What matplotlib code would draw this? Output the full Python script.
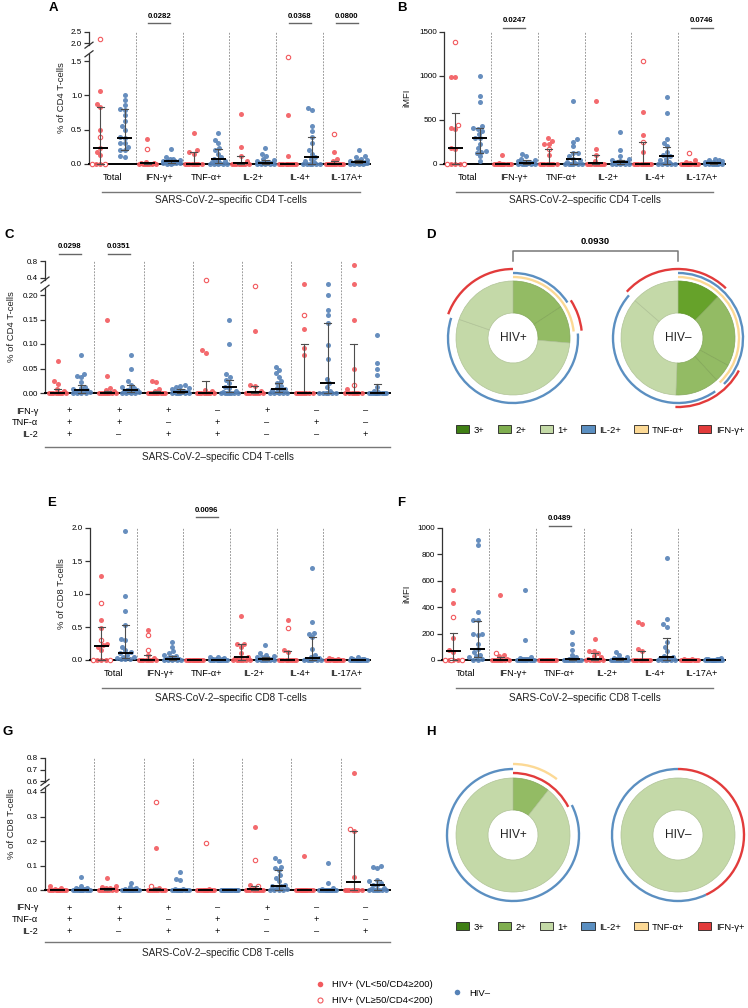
import numpy as np
import matplotlib
matplotlib.use('Agg')
import matplotlib.pyplot as plt
from matplotlib.patches import Arc, Patch
from matplotlib.lines import Line2D
from matplotlib.colors import to_rgb

plt.rcParams['font.family'] = ['Liberation Sans', 'DejaVu Sans']
plt.rcParams['font.size'] = 6.5

W, H = 748, 1008
RED = '#f25a5e'
BLUE = '#5682b7'
PIE_COL = {'3+': '#66a22a', '2+': '#93bb64', '1+': '#c4d9a8'}
LEG_COL = {'3+': '#3f7f14', '2+': '#7fae4f', '1+': '#c3d9a6'}
ARC_COL = {'IL2': '#5b8fc1', 'TNF': '#fcd995', 'IFN': '#e23b3b'}

# ---------------- data ----------------
cats = ['Total', 'IFN-γ+', 'TNF-α+', 'IL-2+', 'IL-4+', 'IL-17A+']
combo_ifn = ['+', '+', '+', '–', '+', '–', '–']
combo_tnf = ['+', '+', '–', '+', '–', '+', '–']
combo_il2 = ['+', '–', '+', '+', '–', '–', '+']

# A: % of CD4 T-cells
a_red = [[1.06, 0.87, 0.83, 0.5, 0.23, 0.18, 0.13, 0, 0],
         [0.36, 0.03, 0.02, 0.01, 0, 0, 0, 0, 0, 0, 0],
         [0.45, 0.2, 0.17, 0.15, 0, 0, 0, 0, 0, 0, 0, 0],
         [0.73, 0.25, 0.12, 0.05, 0, 0, 0, 0, 0, 0, 0, 0],
         [0.72, 0.12, 0, 0, 0, 0, 0, 0, 0, 0, 0, 0],
         [0.17, 0.08, 0.05, 0, 0, 0, 0, 0, 0, 0, 0, 0]]
a_red_open = [[2.2, 0.4, 0, 0], [0.22], [], [], [1.6], [0.44]]
a_blue = [[1.01, 0.93, 0.86, 0.8, 0.79, 0.72, 0.63, 0.55, 0.5, 0.4, 0.38, 0.3, 0.3, 0.25, 0.2, 0.2, 0.12, 0.1],
          [0.22, 0.1, 0.08, 0.07, 0.06, 0.05, 0.04, 0.04, 0.03, 0.03, 0.03, 0.02, 0.02, 0.01, 0.01, 0.01, 0, 0],
          [0.45, 0.35, 0.3, 0.23, 0.2, 0.15, 0.1, 0.08, 0.06, 0.05, 0.03, 0.02, 0.01, 0, 0, 0, 0, 0],
          [0.24, 0.15, 0.12, 0.08, 0.06, 0.05, 0.03, 0.03, 0.02, 0.02, 0.01, 0.01, 0.01, 0, 0, 0, 0, 0],
          [0.81, 0.78, 0.55, 0.48, 0.4, 0.3, 0.2, 0.15, 0.1, 0.08, 0.05, 0.03, 0, 0, 0, 0, 0, 0],
          [0.2, 0.12, 0.1, 0.08, 0.06, 0.05, 0.04, 0.03, 0.03, 0.02, 0.02, 0.02, 0.01, 0.01, 0, 0, 0, 0]]
a_red_med = [0.23, 0.01, 0.0, 0.01, 0.0, 0.0]
a_red_iqr = [(0, 0.83), (0, 0.02), (0, 0.18), (0, 0.12), (0, 0), (0, 0.05)]
a_blue_med = [0.38, 0.04, 0.07, 0.02, 0.1, 0.03]
a_blue_iqr = [(0.2, 0.8), (0.02, 0.06), (0.01, 0.22), (0, 0.06), (0, 0.4), (0.01, 0.06)]
a_sig = [(1, '0.0282'), (4, '0.0368'), (5, '0.0800')]

# B: iMFI CD4
b_red = [[990, 985, 410, 400, 180, 170, 0, 0, 0],
         [100, 10, 5, 0, 0, 0, 0, 0, 0, 0, 0, 0, 0],
         [290, 260, 230, 225, 100, 0, 0, 0, 0, 0, 0, 0, 0],
         [720, 170, 100, 30, 0, 0, 0, 0, 0, 0, 0, 0, 0],
         [590, 330, 140, 0, 0, 0, 0, 0, 0, 0, 0, 0],
         [40, 20, 10, 0, 0, 0, 0, 0, 0, 0, 0, 0, 0]]
b_red_open = [[1390, 440, 0, 0], [], [170], [], [1170, 250], [130]]
b_blue = [[1000, 770, 700, 430, 410, 400, 380, 340, 300, 290, 230, 180, 150, 140, 130, 90, 30],
          [110, 90, 60, 40, 30, 25, 20, 15, 10, 10, 10, 5, 5, 0, 0, 0, 0],
          [720, 280, 250, 200, 130, 120, 90, 60, 40, 20, 10, 0, 0, 0, 0, 0, 0],
          [360, 160, 90, 60, 40, 30, 25, 20, 20, 15, 10, 10, 5, 0, 0, 0, 0],
          [760, 580, 280, 240, 200, 140, 100, 90, 60, 40, 20, 10, 0, 0, 0, 0, 0],
          [60, 50, 40, 30, 25, 20, 15, 10, 10, 10, 5, 5, 0, 0, 0, 0, 0]]
b_red_med = [180, 0, 0, 10, 0, 0]
b_red_iqr = [(0, 580), (0, 0), (0, 170), (0, 100), (0, 250), (0, 0)]
b_blue_med = [300, 10, 60, 20, 90, 10]
b_blue_iqr = [(130, 410), (0, 40), (0, 140), (0, 50), (0, 190), (0, 20)]
b_sig = [(1, '0.0247'), (5, '0.0746')]

# C: CD4 cytokine combinations
c_red = [[0.066, 0.024, 0.018, 0.008, 0.005, 0, 0, 0, 0, 0, 0, 0, 0],
         [0.15, 0.034, 0.01, 0.006, 0.004, 0, 0, 0, 0, 0, 0, 0, 0],
         [0.024, 0.023, 0.008, 0.004, 0, 0, 0, 0, 0, 0, 0, 0, 0],
         [0.088, 0.082, 0.007, 0.004, 0, 0, 0, 0, 0, 0, 0, 0],
         [0.127, 0.017, 0.014, 0.005, 0, 0, 0, 0, 0, 0, 0, 0],
         [0.33, 0.13, 0.092, 0.077, 0, 0, 0, 0, 0, 0, 0, 0],
         [0.7, 0.33, 0.15, 0.049, 0.008, 0, 0, 0, 0, 0, 0, 0]]
c_red_open = [[], [], [], [0.38], [0.31], [0.16], [0.017]]
c_blue = [[0.078, 0.039, 0.035, 0.032, 0.022, 0.013, 0.01, 0.008, 0.006, 0.005, 0.004, 0.003, 0.002, 0.001, 0, 0, 0],
          [0.078, 0.049, 0.024, 0.017, 0.013, 0.01, 0.008, 0.007, 0.006, 0.005, 0.004, 0.003, 0.002, 0, 0, 0, 0],
          [0.017, 0.015, 0.012, 0.01, 0.008, 0.006, 0.005, 0.004, 0.003, 0.003, 0.002, 0.001, 0, 0, 0, 0, 0],
          [0.148, 0.1, 0.039, 0.033, 0.027, 0.02, 0.013, 0.01, 0.005, 0.002, 0, 0, 0, 0, 0, 0, 0],
          [0.054, 0.047, 0.04, 0.033, 0.025, 0.02, 0.015, 0.01, 0.008, 0.007, 0.005, 0.002, 0, 0, 0, 0, 0],
          [0.33, 0.2, 0.17, 0.16, 0.143, 0.098, 0.069, 0.028, 0.02, 0.012, 0.005, 0, 0, 0, 0, 0, 0],
          [0.118, 0.061, 0.05, 0.037, 0.012, 0.005, 0.002, 0, 0, 0, 0, 0, 0, 0, 0, 0, 0]]
c_red_med = [0, 0, 0, 0, 0.003, 0, 0]
c_red_iqr = [(0, 0.008), (0, 0.005), (0, 0.004), (0, 0.025), (0, 0.015), (0, 0.1), (0, 0.1)]
c_blue_med = [0.007, 0.007, 0.003, 0.012, 0.008, 0.02, 0.0]
c_blue_iqr = [(0.001, 0.016), (0.002, 0.016), (0, 0.008), (0.002, 0.027), (0.002, 0.02), (0, 0.143), (0, 0.018)]
c_sig = [(0, '0.0298'), (1, '0.0351')]

# E: % of CD8 T-cells
e_red = [[1.28, 0.6, 0.48, 0.25, 0.22, 0.2, 0.15, 0, 0, 0],
         [0.46, 0.08, 0.03, 0, 0, 0, 0, 0, 0, 0, 0],
         [0, 0, 0, 0, 0, 0, 0, 0, 0, 0, 0, 0, 0, 0],
         [0.67, 0.25, 0.24, 0.2, 0.1, 0.05, 0.03, 0, 0, 0, 0, 0, 0, 0],
         [0.61, 0.15, 0.12, 0, 0, 0, 0, 0, 0, 0, 0, 0, 0],
         [0.03, 0.02, 0.01, 0, 0, 0, 0, 0, 0, 0, 0, 0, 0, 0]]
e_red_open = [[0.87, 0.3, 0, 0], [0.38, 0.15], [], [], [0.49], []]
e_blue = [[1.96, 0.97, 0.75, 0.53, 0.32, 0.3, 0.2, 0.15, 0.12, 0.1, 0.08, 0.05, 0.04, 0.03, 0.02, 0.02, 0.01],
          [0.27, 0.2, 0.13, 0.1, 0.08, 0.06, 0.05, 0.03, 0.02, 0.02, 0.01, 0.01, 0, 0, 0, 0, 0],
          [0.05, 0.04, 0.03, 0.02, 0.01, 0.01, 0.005, 0, 0, 0, 0, 0, 0, 0, 0, 0, 0],
          [0.23, 0.1, 0.08, 0.06, 0.05, 0.04, 0.03, 0.02, 0.02, 0.01, 0, 0, 0, 0, 0, 0, 0],
          [1.4, 0.57, 0.41, 0.4, 0.35, 0.16, 0.08, 0.04, 0.03, 0.02, 0.01, 0, 0, 0, 0, 0, 0],
          [0.05, 0.03, 0.02, 0.01, 0.01, 0.005, 0, 0, 0, 0, 0, 0, 0, 0, 0, 0, 0]]
e_red_med = [0.21, 0, 0, 0.04, 0, 0]
e_red_iqr = [(0, 0.5), (0, 0.08), (0, 0), (0, 0.24), (0, 0.13), (0, 0)]
e_blue_med = [0.11, 0.01, 0, 0.02, 0.03, 0]
e_blue_iqr = [(0.03, 0.53), (0, 0.06), (0, 0), (0, 0.05), (0, 0.35), (0, 0)]
e_sig = [(2, '0.0096')]

# F: iMFI CD8
f_red = [[530, 435, 165, 75, 60, 0, 0, 0],
         [490, 40, 30, 10, 0, 0, 0, 0, 0, 0, 0, 0],
         [0, 0, 0, 0, 0, 0, 0, 0, 0, 0, 0, 0, 0, 0],
         [160, 70, 65, 50, 30, 20, 10, 0, 0, 0, 0, 0, 0, 0],
         [290, 275, 80, 65, 0, 0, 0, 0, 0, 0, 0, 0, 0, 0],
         [10, 5, 0, 0, 0, 0, 0, 0, 0, 0, 0, 0, 0, 0]]
f_red_open = [[325, 0, 0, 0], [55], [], [], [], []]
f_blue = [[910, 870, 365, 300, 300, 200, 200, 190, 120, 80, 60, 40, 30, 20, 10, 0, 0],
          [530, 155, 20, 15, 10, 10, 5, 5, 0, 0, 0, 0, 0, 0, 0, 0, 0],
          [210, 120, 75, 40, 20, 10, 5, 5, 0, 0, 0, 0, 0, 0, 0, 0, 0],
          [60, 35, 25, 15, 10, 10, 5, 5, 0, 0, 0, 0, 0, 0, 0, 0, 0],
          [775, 310, 270, 250, 140, 100, 70, 30, 20, 15, 10, 0, 0, 0, 0, 0, 0],
          [15, 10, 10, 5, 5, 0, 0, 0, 0, 0, 0, 0, 0, 0, 0, 0, 0]]
f_red_med = [65, 0, 0, 10, 0, 0]
f_red_iqr = [(0, 205), (0, 20), (0, 0), (0, 50), (0, 65), (0, 0)]
f_blue_med = [80, 0, 5, 5, 20, 0]
f_blue_iqr = [(20, 295), (0, 10), (0, 15), (0, 15), (0, 165), (0, 0)]
f_sig = [(2, '0.0489')]

# G: CD8 cytokine combinations
g_red = [[0.016, 0.008, 0.005, 0, 0, 0, 0, 0, 0, 0, 0, 0, 0, 0],
         [0.05, 0.015, 0.012, 0.01, 0.008, 0.005, 0, 0, 0, 0, 0, 0, 0, 0],
         [0.17, 0.01, 0.005, 0, 0, 0, 0, 0, 0, 0, 0, 0],
         [0.005, 0, 0, 0, 0, 0, 0, 0, 0, 0, 0, 0, 0],
         [0.256, 0.02, 0.01, 0, 0, 0, 0, 0, 0, 0, 0, 0],
         [0.14, 0, 0, 0, 0, 0, 0, 0, 0, 0, 0, 0, 0, 0],
         [0.67, 0.24, 0.052, 0, 0, 0, 0, 0, 0, 0, 0]]
g_red_open = [[], [], [0.36, 0.015], [0.19], [0.124, 0.016], [], [0.25]]
g_blue = [[0.055, 0.015, 0.01, 0.008, 0.005, 0.003, 0, 0, 0, 0, 0, 0, 0, 0, 0, 0, 0],
          [0.03, 0.012, 0.01, 0.005, 0.003, 0, 0, 0, 0, 0, 0, 0, 0, 0, 0, 0, 0],
          [0.074, 0.045, 0.042, 0.005, 0.003, 0, 0, 0, 0, 0, 0, 0, 0, 0, 0, 0, 0],
          [0.002, 0, 0, 0, 0, 0, 0, 0, 0, 0, 0, 0, 0, 0, 0, 0, 0],
          [0.13, 0.12, 0.095, 0.09, 0.08, 0.06, 0.05, 0.035, 0.02, 0.016, 0.015, 0.01, 0.005, 0, 0, 0, 0],
          [0.11, 0.03, 0.01, 0.005, 0, 0, 0, 0, 0, 0, 0, 0, 0, 0, 0, 0, 0],
          [0.1, 0.095, 0.09, 0.04, 0.035, 0.03, 0.022, 0.02, 0.01, 0.005, 0, 0, 0, 0, 0, 0, 0]]
g_red_med = [0, 0.004, 0.001, 0, 0.003, 0, 0.033]
g_red_iqr = [(0, 0), (0, 0.01), (0, 0.01), (0, 0), (0, 0.015), (0, 0), (0, 0.24)]
g_blue_med = [0, 0, 0, 0, 0.016, 0, 0.022]
g_blue_iqr = [(0, 0), (0, 0), (0, 0), (0, 0), (0.002, 0.08), (0, 0), (0, 0.04)]

# D / H: polyfunctionality pies (percent of response) and cytokine arcs (start %, end %)
d_pos_slices = [15.8, 10.6, 53.9, 19.7]
d_pos_levels = ['2+', '2+', '1+', '1+']
d_pos_tnf = [(0, 23.3)]
d_pos_il2 = [(0, 15.8), (23.9, 80.0)]
d_pos_ifn = [(15.8, 23.3), (80.6, 100)]
d_neg_slices = [12.2, 20.8, 5.2, 12.4, 35.8, 13.6]
d_neg_levels = ['3+', '2+', '2+', '2+', '1+', '1+']
d_neg_tnf = [(0, 38.0)]
d_neg_il2 = [(0, 37.5), (40.3, 86.4)]
d_neg_ifn = [(86.7, 112.2), (32.8, 50.6)]
h_pos_slices = [10.6, 89.4]
h_pos_levels = ['2+', '1+']
h_pos_tnf = [(0, 10.6)]
h_pos_il2 = [(17.5, 100)]
h_pos_ifn = [(0, 17.5)]
h_neg_slices = [100]
h_neg_levels = ['1+']
h_neg_tnf = []
h_neg_il2 = [(43, 100)]
h_neg_ifn = [(0, 43)]

# ---------------- figure ----------------
fig = plt.figure(figsize=(W / 100, H / 100), dpi=100)
ov = fig.add_axes([0, 0, 1, 1])
ov.set_xlim(0, W)
ov.set_ylim(H, 0)
ov.axis('off')
ov.set_zorder(10)


def px_ax(l, t, r, b):
    return fig.add_axes([l / W, 1 - b / H, (r - l) / W, (b - t) / H])


def swarm(ax, xc, vals, pxu, d=4.4, maxw=17):
    # simple beeswarm in pixel space, limited to maxw pixels
    vals = np.asarray(vals, float)
    n = len(vals)
    xs = np.full(n, float(xc))
    if n == 0:
        return xs
    ypx = ax.transData.transform(np.column_stack([np.zeros(n), vals]))[:, 1]
    cand = np.arange(-maxw / 2, maxw / 2 + 0.01, 0.5)
    cand = cand[np.argsort(np.abs(cand), kind='stable')]
    px, py = [], []
    for i in np.argsort(ypx, kind='stable'):
        if not px:
            best = 0.0
        else:
            pa, pb = np.array(px), np.array(py)
            dist = np.sqrt((cand[:, None] - pa[None, :]) ** 2 + (ypx[i] - pb[None, :]) ** 2).min(axis=1)
            ok = np.where(dist >= d)[0]
            best = cand[ok[0]] if len(ok) else cand[np.argmax(dist)]
        px.append(best)
        py.append(ypx[i])
        xs[i] = xc + best / pxu
    return xs


def dot_panel(box, yticks, ylabels, red, red_open, blue, rmed, riqr, bmed, biqr,
              brk=None, sig=(), sig_px=(9, 15), xcats=None, off=0.26):
    l, t, r, b = box
    ax = px_ax(*box)
    ax.patch.set_alpha(0)
    n = len(red)
    pxu = (r - l) / n
    if brk is not None:
        vals, pos = brk
        ax.set_yscale('function', functions=(lambda v: np.interp(v, vals, pos),
                                             lambda u: np.interp(u, pos, vals)))
    ax.set_xlim(-0.5, n - 0.5)
    ax.set_ylim(0, yticks[-1])
    for i in range(n):
        if i:
            ax.axvline(i - 0.5, color='#8a8a8a', lw=0.6, ls=(0, (2.2, 1.6)), zorder=1)
        rv = list(red[i]) + list(red_open[i])
        xr = swarm(ax, i - off, rv, pxu)
        k = len(red[i])
        ax.scatter(xr[:k], red[i], s=13, color=RED, lw=0, alpha=0.9, zorder=3, clip_on=False)
        if red_open[i]:
            ax.scatter(xr[k:], red_open[i], s=10, facecolor='white', edgecolor=RED,
                       lw=0.8, zorder=3, clip_on=False)
        xb = swarm(ax, i + off, blue[i], pxu)
        ax.scatter(xb, blue[i], s=13, color=BLUE, lw=0, alpha=0.9, zorder=3, clip_on=False)
        for xc, med, (q1, q3) in ((i - off, rmed[i], riqr[i]), (i + off, bmed[i], biqr[i])):
            if q3 > q1:
                cw = 3.5 / pxu
                ax.plot([xc, xc], [q1, q3], color='#4d4d4d', lw=0.8, zorder=4, clip_on=False)
                for q in (q1, q3):
                    ax.plot([xc - cw, xc + cw], [q, q], color='#4d4d4d', lw=0.8, zorder=4, clip_on=False)
            mw = 7.5 / pxu
            ax.plot([xc - mw, xc + mw], [med, med], color='black', lw=1.4, zorder=5,
                    solid_capstyle='butt', clip_on=False)
    ax.spines[['top', 'right']].set_visible(False)
    ax.spines['bottom'].set_linewidth(1.4)
    ax.spines['bottom'].set_color('black')
    ax.spines['left'].set_linewidth(0.9)
    ax.spines['left'].set_color('#333')
    ax.set_yticks(yticks)
    ax.set_yticklabels(ylabels)
    ax.tick_params(axis='y', length=3.5, width=0.9, labelsize=5.8, pad=1.5, color='#333')
    if xcats is not None:
        ax.set_xticks(range(n))
        ax.set_xticklabels(xcats, fontsize=6.6)
        ax.tick_params(axis='x', length=0, pad=6.5)
    else:
        ax.set_xticks([])
    if brk is not None:
        vals, pos = brk
        ax.spines['left'].set_visible(False)
        p_lo, p_hi = pos[2], pos[3]
        v_end = np.interp(p_lo + 0.4 * (p_hi - p_lo), pos, vals)
        v_start = np.interp(p_hi - 0.12 * (p_hi - p_lo), pos, vals)
        tr = ax.get_yaxis_transform()
        ax.plot([0, 0], [0, v_end], transform=tr, color='#333', lw=0.9, clip_on=False)
        ax.plot([0, 0], [v_start, yticks[-1]], transform=tr, color='#333', lw=0.9, clip_on=False)
        for v in (v_end, v_start):
            x0, y0 = ax.transData.transform((-0.5, v))
            ov.plot([x0 - 4, x0 + 4], [H - y0 + 3, H - y0 - 3], color='#333', lw=0.9)
    h = b - t
    for i, txt in sig:
        hw = 11 / pxu
        ax.plot([i - hw, i + hw], [1 + sig_px[0] / h] * 2, transform=ax.get_xaxis_transform(),
                color='#666', lw=1.0, clip_on=False)
        ax.text(i, 1 + sig_px[1] / h, txt, transform=ax.get_xaxis_transform(),
                ha='center', va='center', fontsize=5.6, fontweight='bold')
    return ax


def combo_rows(ax):
    rows = [('IFN-γ', combo_ifn), ('TNF-α', combo_tnf), ('IL-2', combo_il2)]
    for rr, (name, signs) in enumerate(rows):
        dy = -(18 + 11.7 * rr) * 0.72
        ax.annotate(name, xy=(0, 0), xycoords='axes fraction', xytext=(-5, dy),
                    textcoords='offset points', ha='right', va='center', fontsize=6.6)
        for i, s in enumerate(signs):
            ax.annotate(s, xy=(i, 0), xycoords=('data', 'axes fraction'), xytext=(0, dy),
                        textcoords='offset points', ha='center', va='center', fontsize=6.6)


def darker(c, f=0.9):
    return tuple(v * f for v in to_rgb(c))


def pie_panel(cx, cy, slices, levels, arcs, radii, label):
    ax = px_ax(cx - 80, cy - 80, cx + 80, cy + 80)
    wedges, _ = ax.pie(slices, colors=[PIE_COL[v] for v in levels], radius=57,
                       startangle=90, counterclock=False,
                       wedgeprops=dict(width=32, linewidth=0.5))
    for w, v in zip(wedges, levels):
        w.set_edgecolor(darker(PIE_COL[v]))
    ax.set_xlim(-80, 80)
    ax.set_ylim(-80, 80)
    ax.axis('off')
    for key, spans in arcs:
        rad = radii[key]
        for s, e in spans:
            ax.add_patch(Arc((0, 0), 2 * rad, 2 * rad, theta1=90 - e * 3.6, theta2=90 - s * 3.6,
                             color=ARC_COL[key], lw=1.7))
    ax.text(0, 0, label, ha='center', va='center', fontsize=8.6, color='#222')


# ---------------- panels ----------------
ax_a = dot_panel((89, 32, 370, 164), [0, 0.5, 1.0, 1.5, 2.0, 2.5],
                 ['0.0', '0.5', '1.0', '1.5', '2.0', '2.5'],
                 a_red, a_red_open, a_blue, a_red_med, a_red_iqr, a_blue_med, a_blue_iqr,
                 brk=([-1, 0, 1.5, 2.0, 2.5, 5], [-68.7, 0, 103, 121, 132, 187]),
                 sig=a_sig, sig_px=(9, 15), xcats=cats)
ax_b = dot_panel((444, 32, 725, 164), [0, 500, 1000, 1500], ['0', '500', '1000', '1500'],
                 b_red, b_red_open, b_blue, b_red_med, b_red_iqr, b_blue_med, b_blue_iqr,
                 sig=b_sig, sig_px=(4, 12), xcats=cats)
ax_c = dot_panel((45, 261, 390, 393), [0, 0.05, 0.10, 0.15, 0.20, 0.4, 0.8],
                 ['0.00', '0.05', '0.10', '0.15', '0.20', '0.4', '0.8'],
                 c_red, c_red_open, c_blue, c_red_med, c_red_iqr, c_blue_med, c_blue_iqr,
                 brk=([-1, 0, 0.2, 0.4, 0.8, 2], [-490, 0, 98, 115, 132, 183]),
                 sig=c_sig, sig_px=(7, 14), off=0.24)
combo_rows(ax_c)
ax_e = dot_panel((90, 528, 370, 660), [0, 0.5, 1.0, 1.5, 2.0], ['0.0', '0.5', '1.0', '1.5', '2.0'],
                 e_red, e_red_open, e_blue, e_red_med, e_red_iqr, e_blue_med, e_blue_iqr,
                 sig=e_sig, sig_px=(11, 18), xcats=cats)
ax_f = dot_panel((442, 528, 725, 660), [0, 200, 400, 600, 800, 1000],
                 ['0', '200', '400', '600', '800', '1000'],
                 f_red, f_red_open, f_blue, f_red_med, f_red_iqr, f_blue_med, f_blue_iqr,
                 sig=f_sig, sig_px=(2, 10), xcats=cats)
ax_g = dot_panel((45, 758, 390, 890), [0, 0.1, 0.2, 0.3, 0.4, 0.6, 0.7, 0.8],
                 ['0.0', '0.1', '0.2', '0.3', '0.4', '0.6', '0.7', '0.8'],
                 g_red, g_red_open, g_blue, g_red_med, g_red_iqr, g_blue_med, g_blue_iqr,
                 brk=([-1, 0, 0.4, 0.6, 0.8, 2], [-245, 0, 98, 109, 132, 270]),
                 off=0.24)
combo_rows(ax_g)

radii_d = {'TNF': 61, 'IL2': 65, 'IFN': 69}
pie_panel(513, 338, d_pos_slices, d_pos_levels,
          [('TNF', d_pos_tnf), ('IL2', d_pos_il2), ('IFN', d_pos_ifn)], radii_d, 'HIV+')
pie_panel(678, 338, d_neg_slices, d_neg_levels,
          [('TNF', d_neg_tnf), ('IL2', d_neg_il2), ('IFN', d_neg_ifn)], radii_d, 'HIV–')
pie_panel(513, 835, h_pos_slices, h_pos_levels,
          [('TNF', h_pos_tnf), ('IL2', h_pos_il2), ('IFN', h_pos_ifn)],
          {'IFN': 62, 'IL2': 66, 'TNF': 71}, 'HIV+')
pie_panel(678, 835, h_neg_slices, h_neg_levels,
          [('TNF', h_neg_tnf), ('IL2', h_neg_il2), ('IFN', h_neg_ifn)],
          {'IFN': 66, 'IL2': 66, 'TNF': 71}, 'HIV–')

# bracket over D
ov.plot([513, 513, 678, 678], [261, 251, 251, 261], color='#777', lw=1.1)
ov.text(595.5, 242, '0.0930', ha='center', va='center', fontsize=6.8, fontweight='bold')

# group brackets and captions
caps = [((102, 360), 192, 200, 'SARS-CoV-2–specific CD4 T-cells'),
        ((456, 713), 192, 200, 'SARS-CoV-2–specific CD4 T-cells'),
        ((45, 390), 447, 457, 'SARS-CoV-2–specific CD4 T-cells'),
        ((102, 360), 688, 698, 'SARS-CoV-2–specific CD8 T-cells'),
        ((456, 713), 688, 698, 'SARS-CoV-2–specific CD8 T-cells'),
        ((45, 390), 942, 953, 'SARS-CoV-2–specific CD8 T-cells')]
for (x0, x1), yl, yt, txt in caps:
    ov.plot([x0, x1], [yl, yl], color='#777', lw=1.0)
    ov.text((x0 + x1) / 2, yt, txt, ha='center', va='center', fontsize=7.2, color='#222')

# y labels
for x, y, txt in [(62, 98, '% of CD4 T-cells'), (407, 98, 'iMFI'), (12, 327, '% of CD4 T-cells'),
                  (62, 594, '% of CD8 T-cells'), (407, 594, 'iMFI'), (12, 824, '% of CD8 T-cells')]:
    ov.text(x, y, txt, rotation=90, ha='center', va='center', fontsize=6.8, color='#222')

# panel letters
for x, y, s in [(53, 8, 'A'), (402, 8, 'B'), (9, 235, 'C'), (431, 235, 'D'),
                (52, 503, 'E'), (401, 503, 'F'), (8, 732, 'G'), (431, 732, 'H')]:
    ov.text(x, y, s, ha='center', va='center', fontsize=9.5, fontweight='bold')

# pie legends
pie_handles = [Patch(facecolor=LEG_COL[k], edgecolor='#222', lw=0.6) for k in ['3+', '2+', '1+']]
pie_handles += [Patch(facecolor=ARC_COL[k], edgecolor='#222', lw=0.6) for k in ['IL2', 'TNF', 'IFN']]
pie_labels = ['3+', '2+', '1+', 'IL-2+', 'TNF-α+', 'IFN-γ+']
for yc in (430, 927):
    fig.legend(pie_handles, pie_labels, loc='center', bbox_to_anchor=(600 / W, 1 - yc / H),
               ncol=6, frameon=False, fontsize=6.8, handlelength=1.4, handleheight=0.85,
               handletextpad=0.5, columnspacing=1.4)

# group legend
red_handles = [Line2D([], [], ls='', marker='o', markersize=4, color=RED, markeredgewidth=0),
               Line2D([], [], ls='', marker='o', markersize=3.6, markerfacecolor='white',
                      markeredgecolor=RED, markeredgewidth=0.8)]
fig.legend(red_handles, ['HIV+ (VL<50/CD4≥200)', 'HIV+ (VL≥50/CD4<200)'], loc='center left',
           bbox_to_anchor=(306 / W, 1 - 992.5 / H), frameon=False, fontsize=6.8,
           handlelength=1.2, handletextpad=0.7, labelspacing=0.75)
fig.legend([Line2D([], [], ls='', marker='o', markersize=4, color=BLUE, markeredgewidth=0)],
           ['HIV–'], loc='center left', bbox_to_anchor=(443 / W, 1 - 993 / H), frameon=False,
           fontsize=6.8, handlelength=1.2, handletextpad=0.7)

fig.savefig('out.png', dpi=100)
